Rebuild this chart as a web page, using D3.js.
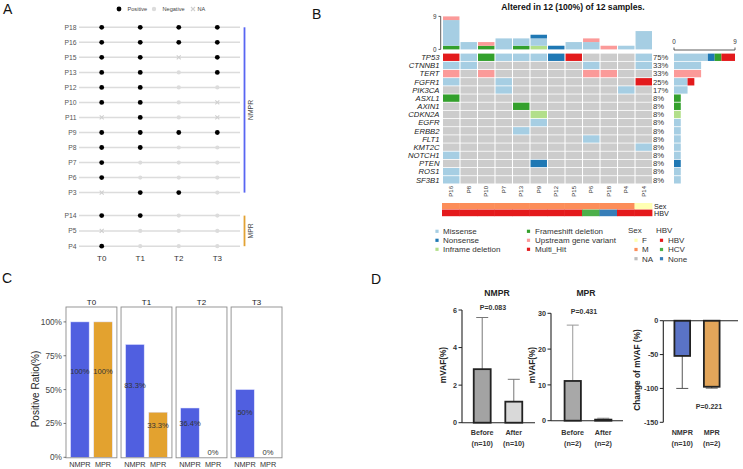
<!DOCTYPE html>
<html><head><meta charset="utf-8">
<script src="https://cdn.jsdelivr.net/npm/d3@7/dist/d3.min.js"></script>
<style>
body{margin:0;background:#fff;}
svg{display:block;font-family:"Liberation Sans",Arial,Helvetica,sans-serif;}
</style></head><body>
<svg id="c" width="743" height="469"></svg>
<script>
// ================= DATA =================
// Panel A
const patientsA = ["P18","P16","P15","P13","P12","P10","P11","P9","P8","P7","P6","P3","P14","P5","P4"];
const groupsA   = ["NMPR","NMPR","NMPR","NMPR","NMPR","NMPR","NMPR","NMPR","NMPR","NMPR","NMPR","NMPR","MPR","MPR","MPR"];
const timepoints = ["T0","T1","T2","T3"];
const statusA = [
  ["P","P","P","P"],
  ["P","P","P","P"],
  ["P","P","NA","P"],
  ["P","P","N","P"],
  ["P","P","N","N"],
  ["P","P","N","NA"],
  ["NA","P","N","NA"],
  ["P","P","P","P"],
  ["P","P","N","N"],
  ["P","N","N","N"],
  ["P","N","N","N"],
  ["NA","P","P","N"],
  ["P","P","N","N"],
  ["NA","N","N","N"],
  ["P","N","N","N"]
];
const legendA = ["Positive","Negative","NA"];

// Panel B (oncoprint)
const samplesB = ["P16","P8","P10","P7","P13","P9","P12","P15","P6","P18","P4","P14"];
const genesB = ["TP53","CTNNB1","TERT","FGFR1","PIK3CA","ASXL1","AXIN1","CDKN2A","EGFR","ERBB2","FLT1","KMT2C","NOTCH1","PTEN","ROS1","SF3B1"];
// codes: M Missense, N Nonsense, I Inframe deletion, F Frameshift deletion, U Upstream gene variant, H Multi_Hit, . none
const mutRows = [
  "HMFMMMNH...M",
  "MM......M..M",
  "U.U.....UU..",
  "M..M.......H",
  "...M......M.",
  "F...........",
  "....F.......",
  ".....I......",
  ".....M......",
  "....M.......",
  "........M...",
  "...........M",
  "M...........",
  ".....N......",
  "M...........",
  "M..........."
];
const mutTypes = ["Missense","Nonsense","Inframe deletion","Frameshift deletion","Upstream gene variant","Multi_Hit"];
const mutCodes = ["M","N","I","F","U","H"];
// top bar: variants per sample by class
const topFrameshift = [1,0,1,0,1,0,0,0,0,0,0,0];
const topInframe    = [0,0,0,0,0,1,0,0,0,0,0,0];
const topMissense   = [7,2,0,3,2,2,0,2,2,0,1,5];
const topNonsense   = [0,0,0,0,0,1,1,0,0,0,0,0];
const topUpstream   = [1,0,1,0,0,0,0,0,1,1,0,0];
const sexB = ["M","M","M","M","M","M","M","M","M","M","M","F"];
const hbvB = ["HBV","HBV","HBV","HBV","HBV","HBV","HBV","HBV","HCV","None","HBV","HBV"];
const sexLevels = ["F","M","NA"];
const hbvLevels = ["HBV","HCV","None"];
const titleB = "Altered in 12 (100%) of 12 samples.";

// Panel C
const groupsC = ["NMPR","MPR"];
const ratioNMPR = [1.0, 0.833, 0.364, 0.5];
const ratioMPR  = [1.0, 0.333, 0.0, 0.0];
const labelNMPR = ["100%","83.3%","36.4%","50%"];
const labelMPR  = ["100%","33.3%","0%","0%"];
const ticksC = [0,0.25,0.5,0.75,1.0];

// Panel D
const condD = ["Before","After"];
const nmprMean = [2.85, 1.12];
const nmprErr  = [5.6, 2.31];
const nmprN = ["(n=10)","(n=10)"];
const mprMean = [11.1, 0.3];
const mprErr  = [26.7, 0.7];
const mprN = ["(n=2)","(n=2)"];
const changeGroups = ["NMPR","MPR"];
const changeMean = [-52, -97.5];
const changeErr  = [-100, -99.5];
const changeN = ["(n=10)","(n=2)"];
const pD = ["P=0.083","P=0.431","P=0.221"];

// ================= DRAW =================
const svg = d3.select("#c");
const C = {
  Missense:"#a6cee3", Nonsense:"#1f78b4", "Inframe deletion":"#b2df8a",
  "Frameshift deletion":"#33a02c", "Upstream gene variant":"#fb9a99", Multi_Hit:"#e31a1c"
};
const sexC = {F:"#ffffb3", M:"#fc8d59", NA:"#bdbdbd"};
const hbvC = {HBV:"#e41a1c", HCV:"#4daf4a", None:"#377eb8"};

// letters
[["A",3,14],["B",312,19],["C",2,283],["D",371,284]].forEach(([t,x,y])=>{
  svg.append("text").attr("x",x).attr("y",y).attr("font-size",14).attr("fill","#111").text(t);
});

// ---------- Panel A ----------
{
  const g = svg.append("g");
  const xA = d3.scalePoint().domain(timepoints).range([101.7,217.3]);
  const nm = patientsA.filter((p,i)=>groupsA[i]==="NMPR");
  const mp = patientsA.filter((p,i)=>groupsA[i]==="MPR");
  const yN = d3.scalePoint().domain(nm).range([27.3,192.6]);
  const yM = d3.scalePoint().domain(mp).range([215.6,246.2]);
  const yA = (p,i)=> groupsA[i]==="NMPR" ? yN(p) : yM(p);
  const cross = (x,y,col)=>{
    g.append("path").attr("d",`M${x-2},${y-2}L${x+2},${y+2}M${x-2},${y+2}L${x+2},${y-2}`)
      .attr("stroke",col).attr("stroke-width",1.1);
  };
  patientsA.forEach((p,i)=>{
    const y = yA(p,i);
    g.append("line").attr("x1",79).attr("x2",240).attr("y1",y).attr("y2",y)
      .attr("stroke","#dcdcdc").attr("stroke-width",1.5);
    g.append("text").attr("x",76.5).attr("y",y+2.4).attr("text-anchor","end")
      .attr("font-size",6.8).attr("fill","#555").text(p);
    statusA[i].forEach((s,j)=>{
      const x = xA(timepoints[j]);
      if(s==="P") g.append("circle").attr("cx",x).attr("cy",y).attr("r",2.4).attr("fill","#000");
      else if(s==="N") g.append("circle").attr("cx",x).attr("cy",y).attr("r",2.1).attr("fill","#dcdcdc");
      else cross(x,y,"#cfcfcf");
    });
  });
  timepoints.forEach(t=>{
    g.append("text").attr("x",xA(t)).attr("y",261).attr("text-anchor","middle")
      .attr("font-size",8).attr("fill","#333").text(t);
  });
  // brackets
  g.append("line").attr("x1",244.5).attr("x2",244.5).attr("y1",yN(nm[0])).attr("y2",yN(nm[nm.length-1]))
    .attr("stroke","#5865f2").attr("stroke-width",1.8);
  g.append("line").attr("x1",244.5).attr("x2",244.5).attr("y1",yM(mp[0])).attr("y2",yM(mp[mp.length-1]))
    .attr("stroke","#e2a233").attr("stroke-width",1.8);
  const bl = (t,y)=> g.append("text").attr("transform",`translate(252.5,${y}) rotate(-90)`)
      .attr("text-anchor","middle").attr("font-size",6.8).attr("fill","#444").text(t);
  bl("NMPR",(yN(nm[0])+yN(nm[nm.length-1]))/2);
  bl("MPR",(yM(mp[0])+yM(mp[mp.length-1]))/2);
  // legend
  g.append("circle").attr("cx",119).attr("cy",9).attr("r",2.4).attr("fill","#000");
  g.append("text").attr("x",127.5).attr("y",11).attr("font-size",5.6).attr("fill","#444").text(legendA[0]);
  g.append("circle").attr("cx",154).attr("cy",9).attr("r",2.2).attr("fill","#dcdcdc");
  g.append("text").attr("x",162.5).attr("y",11).attr("font-size",5.6).attr("fill","#444").text(legendA[1]);
  cross(193,9,"#cfcfcf");
  g.append("text").attr("x",197.5).attr("y",11).attr("font-size",5.6).attr("fill","#444").text(legendA[2]);
}

// ---------- Panel B ----------
{
  const g = svg.append("g");
  const x = d3.scaleBand().domain(samplesB).range([443,652]).paddingInner(0.06);
  const y = d3.scaleBand().domain(genesB).range([53.6,183.5]).paddingInner(0.1);
  const codeType = {}; mutCodes.forEach((c,i)=>codeType[c]=mutTypes[i]);
  // title
  g.append("text").attr("x",573).attr("y",9.5).attr("text-anchor","middle").attr("font-size",8.6)
    .attr("font-weight","bold").attr("fill","#111").text(titleB);
  // cells
  genesB.forEach((gene,gi)=>{
    samplesB.forEach((s,si)=>{
      const c = mutRows[gi][si];
      g.append("rect").attr("x",x(s)).attr("y",y(gene)).attr("width",x.bandwidth()).attr("height",y.bandwidth())
        .attr("fill", c==="." ? "#cccccc" : C[codeType[c]]);
    });
    g.append("text").attr("x",439.5).attr("y",y(gene)+y.bandwidth()/2+2.8).attr("text-anchor","end")
      .attr("font-size",7.7).attr("font-style","italic").attr("fill","#222").text(gene);
    const cnt = mutRows[gi].split("").filter(c=>c!==".").length;
    g.append("text").attr("x",653).attr("y",y(gene)+y.bandwidth()/2+2.8).attr("font-size",7.7)
      .attr("fill","#333").text(Math.round(cnt/samplesB.length*100)+"%");
  });
  // top bars
  const yT = d3.scaleLinear().domain([0,9]).range([49.4,16.4]);
  const topOrder = [["Frameshift deletion",topFrameshift],["Inframe deletion",topInframe],["Missense",topMissense],["Nonsense",topNonsense],["Upstream gene variant",topUpstream]];
  samplesB.forEach((s,si)=>{
    let acc = 0;
    topOrder.forEach(([t,arr])=>{
      const v = arr[si]; if(!v) return;
      g.append("rect").attr("x",x(s)).attr("width",x.bandwidth())
        .attr("y",yT(acc+v)).attr("height",yT(acc)-yT(acc+v)).attr("fill",C[t]);
      acc += v;
    });
  });
  g.append("line").attr("x1",440.7).attr("x2",440.7).attr("y1",yT(9)).attr("y2",yT(0)).attr("stroke","#333").attr("stroke-width",0.8);
  [0,9].forEach(v=>{
    g.append("line").attr("x1",438.5).attr("x2",440.7).attr("y1",yT(v)).attr("y2",yT(v)).attr("stroke","#333").attr("stroke-width",0.8);
    g.append("text").attr("x",436.5).attr("y",yT(v)+2.2).attr("text-anchor","end").attr("font-size",6.3).attr("fill","#333").text(v);
  });
  // side bars
  const xS = d3.scaleLinear().domain([0,9]).range([674,735]);
  const sideOrder = ["M","N","F","I","U","H"];
  genesB.forEach((gene,gi)=>{
    let acc = 0;
    sideOrder.forEach(c=>{
      const v = mutRows[gi].split("").filter(q=>q===c).length; if(!v) return;
      g.append("rect").attr("x",xS(acc)).attr("width",xS(acc+v)-xS(acc)).attr("y",y(gene)).attr("height",y.bandwidth())
        .attr("fill",C[codeType[c]]);
      acc += v;
    });
  });
  g.append("line").attr("x1",xS(0)).attr("x2",xS(9)).attr("y1",50).attr("y2",50).attr("stroke","#333").attr("stroke-width",0.8);
  [0,9].forEach(v=>{
    g.append("line").attr("x1",xS(v)).attr("x2",xS(v)).attr("y1",47.5).attr("y2",50).attr("stroke","#333").attr("stroke-width",0.8);
    g.append("text").attr("x",xS(v)).attr("y",43.5).attr("text-anchor","middle").attr("font-size",6.3).attr("fill","#333").text(v);
  });
  // sample labels
  samplesB.forEach(s=>{
    g.append("text").attr("transform",`translate(${x(s)+x.bandwidth()/2+2},186) rotate(-90)`)
      .attr("text-anchor","end").attr("font-size",6).attr("fill","#333").text(s);
  });
  // annotations
  const xa = d3.scaleBand().domain(samplesB).range([442,652]);
  samplesB.forEach((s,si)=>{
    g.append("rect").attr("x",xa(s)).attr("width",xa.bandwidth()+0.4).attr("y",203).attr("height",6.4).attr("fill",sexC[sexB[si]]);
    g.append("rect").attr("x",xa(s)).attr("width",xa.bandwidth()+0.4).attr("y",209.6).attr("height",6.6).attr("fill",hbvC[hbvB[si]]);
  });
  g.append("text").attr("x",654).attr("y",208.5).attr("font-size",7.2).attr("fill","#222").text("Sex");
  g.append("text").attr("x",654).attr("y",216).attr("font-size",7.2).attr("fill","#222").text("HBV");
  // legend
  const legItem = (sx,tx,yy,col,txt)=>{
    g.append("rect").attr("x",sx-1.6).attr("y",yy-1.6).attr("width",3.2).attr("height",3.2).attr("fill",col);
    g.append("text").attr("x",tx).attr("y",yy+2.9).attr("font-size",8).attr("fill","#333").text(txt);
  };
  legItem(437,443,231.3,C["Missense"],"Missense");
  legItem(437,443,240.3,C["Nonsense"],"Nonsense");
  legItem(437,443,249.3,C["Inframe deletion"],"Inframe deletion");
  legItem(528.5,535,231.3,C["Frameshift deletion"],"Frameshift deletion");
  legItem(528.5,535,240.3,C["Upstream gene variant"],"Upstream gene variant");
  legItem(528.5,535,249.3,C["Multi_Hit"],"Multi_Hit");
  g.append("text").attr("x",628).attr("y",233).attr("font-size",8).attr("fill","#333").text("Sex");
  g.append("text").attr("x",656).attr("y",233).attr("font-size",8).attr("fill","#333").text("HBV");
  sexLevels.forEach((l,i)=> legItem(636,642,240.3+i*9.2,sexC[l],l));
  hbvLevels.forEach((l,i)=> legItem(661.5,668,240.3+i*9.2,hbvC[l],l));
}

// ---------- Panel C ----------
{
  const g = svg.append("g");
  const fx = d3.scaleBand().domain(timepoints).range([66,282]).paddingInner(0.075);
  const yC = d3.scaleLinear().domain([0,1.11]).range([457.3,307]);
  const cols = {NMPR:"#505fe0", MPR:"#e3a22f"};
  timepoints.forEach((t,ti)=>{
    const x0 = fx(t), w = fx.bandwidth();
    const xb = d3.scaleBand().domain(groupsC).range([x0,x0+w]).paddingInner(0.2).paddingOuter(0.2);
    g.append("text").attr("x",x0+w/2).attr("y",304.5).attr("text-anchor","middle").attr("font-size",8).attr("fill","#222").text(t);
    const vals = {NMPR:ratioNMPR[ti], MPR:ratioMPR[ti]};
    const labs = {NMPR:labelNMPR[ti], MPR:labelMPR[ti]};
    groupsC.forEach(gr=>{
      const v = vals[gr];
      if(v>0) g.append("rect").attr("x",xb(gr)).attr("width",xb.bandwidth()).attr("y",yC(v)).attr("height",yC(0)-yC(v))
        .attr("fill",cols[gr]).attr("stroke","#dde0ff").attr("stroke-width",0.5);
      g.append("text").attr("x",xb(gr)+xb.bandwidth()/2).attr("y",yC(v*0.6)-2).attr("text-anchor","middle")
        .attr("font-size",7.6).attr("fill","#333").text(labs[gr]);
      g.append("text").attr("x",xb(gr)+xb.bandwidth()/2).attr("y",467).attr("text-anchor","middle")
        .attr("font-size",7.3).attr("fill","#333").text(gr);
    });
    g.append("rect").attr("x",x0).attr("y",307).attr("width",w).attr("height",yC(0)-307+0.5)
      .attr("fill","none").attr("stroke","#8c8c8c").attr("stroke-width",0.9);
  });
  ticksC.forEach(v=>{
    g.append("line").attr("x1",63.5).attr("x2",66).attr("y1",yC(v)).attr("y2",yC(v)).attr("stroke","#555").attr("stroke-width",0.8);
    g.append("text").attr("x",62).attr("y",yC(v)+3).attr("text-anchor","end").attr("font-size",8.3).attr("fill","#444").text(d3.format(".0%")(v));
  });
  g.append("text").attr("transform","translate(38.5,389) rotate(-90)").attr("text-anchor","middle")
    .attr("font-size",10).attr("fill","#222").text("Positive Ratio(%)");
}

// ---------- Panel D ----------
function barPanel(opt){
  const g = svg.append("g");
  const y = d3.scaleLinear().domain(opt.domain).range(opt.yrange);
  const x = d3.scaleBand().domain(opt.cats).range(opt.xrange).paddingInner(0.4).paddingOuter(0.15);
  const ax = opt.axisX;
  opt.cats.forEach((c,i)=>{
    const v = opt.mean[i], e = opt.err[i];
    const cx = x(c)+x.bandwidth()/2;
    const top = Math.min(y(v),y(0)), h = Math.abs(y(v)-y(0));
    g.append("line").attr("x1",cx).attr("x2",cx).attr("y1",y(v)).attr("y2",y(e)).attr("stroke",opt.errCol).attr("stroke-width",1);
    g.append("line").attr("x1",cx-6).attr("x2",cx+6).attr("y1",y(e)).attr("y2",y(e)).attr("stroke",opt.errCol).attr("stroke-width",1);
    g.append("rect").attr("x",x(c)+1).attr("width",x.bandwidth()-2).attr("y",top).attr("height",Math.max(h,0.5))
      .attr("fill",opt.fills[i]).attr("stroke","#222").attr("stroke-width",1.8);
    opt.xlab[i].forEach((t,k)=>{
      g.append("text").attr("x",cx).attr("y",opt.xlabY+k*11).attr("text-anchor","middle")
        .attr("font-size",7.2).attr("font-weight","bold").attr("fill","#333").text(t);
    });
  });
  g.append("line").attr("x1",ax).attr("x2",ax).attr("y1",y(opt.domain[0])).attr("y2",y(opt.domain[1])).attr("stroke","#222").attr("stroke-width",1.1);
  g.append("line").attr("x1",ax).attr("x2",opt.axisEnd).attr("y1",y(0)).attr("y2",y(0)).attr("stroke","#222").attr("stroke-width",1.1);
  opt.ticks.forEach(v=>{
    g.append("line").attr("x1",ax-3.5).attr("x2",ax).attr("y1",y(v)).attr("y2",y(v)).attr("stroke","#222").attr("stroke-width",1);
    g.append("text").attr("x",ax-5).attr("y",y(v)+2.6).attr("text-anchor","end").attr("font-size",7.2)
      .attr("font-weight","bold").attr("fill","#333").text(v);
  });
  g.append("text").attr("transform",`translate(${opt.ytitleX},${opt.ytitleY}) rotate(-90)`).attr("text-anchor","middle")
    .attr("font-size",8.3).attr("font-weight","bold").attr("fill","#222").text(opt.ytitle);
  if(opt.title) g.append("text").attr("x",opt.titleX).attr("y",295.5).attr("text-anchor","middle")
    .attr("font-size",8.6).attr("font-weight","bold").attr("fill","#222").text(opt.title);
  g.append("text").attr("x",opt.pX).attr("y",opt.pY).attr("text-anchor","middle").attr("font-size",7)
    .attr("font-weight","bold").attr("fill","#333").text(opt.p);
}
barPanel({domain:[0,6],yrange:[422.7,310],cats:condD,xrange:[468,528],axisX:462,axisEnd:535,
  mean:nmprMean,err:nmprErr,fills:["#a3a3a3","#d9d9d9"],errCol:"#777",ticks:[0,2,4,6],
  xlab:condD.map((c,i)=>[c,nmprN[i]]),xlabY:435,ytitle:"mVAF(%)",ytitleX:445.5,ytitleY:365,
  title:"NMPR",titleX:497,p:pD[0],pX:493,pY:310});
barPanel({domain:[0,30],yrange:[420.7,313.3],cats:condD,xrange:[559,617],axisX:551,axisEnd:623,
  mean:mprMean,err:mprErr,fills:["#a8a8a8","#d9d9d9"],errCol:"#999",ticks:[0,10,20,30],
  xlab:condD.map((c,i)=>[c,mprN[i]]),xlabY:435,ytitle:"mVAF(%)",ytitleX:534.5,ytitleY:365,
  title:"MPR",titleX:586,p:pD[1],pX:584,pY:313.5});
barPanel({domain:[-150,0],yrange:[422.3,320.7],cats:changeGroups,xrange:[669,725],axisX:663.3,axisEnd:738,
  mean:changeMean,err:changeErr,fills:["#5a73c6","#e2a55a"],errCol:"#555",ticks:[0,-50,-100,-150],
  xlab:changeGroups.map((c,i)=>[c,changeN[i]]),xlabY:435,ytitle:"Change of mVAF (%)",ytitleX:639.5,ytitleY:370,
  title:null,p:pD[2],pX:709,pY:408.5});
</script>
</body></html>
